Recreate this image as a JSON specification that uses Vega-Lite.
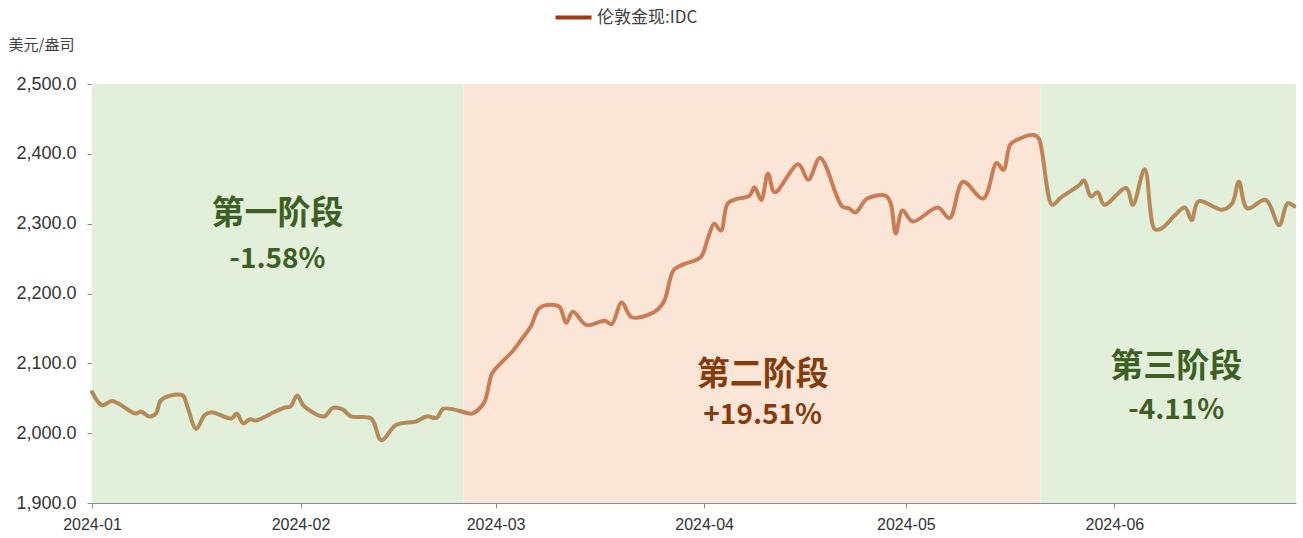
{
  "$schema": "https://vega.github.io/schema/vega-lite/v6.json",
  "width": 1204,
  "height": 419,
  "autosize": {"type": "none"},
  "padding": {"left": 92, "top": 84, "right": 7, "bottom": 35},
  "background": "#ffffff",
  "config": {
    "view": {"stroke": null},
    "axis": {"labelFont": "Liberation Sans", "titleFont": "Noto Sans CJK SC"},
    "text": {"font": "Noto Sans CJK SC"}
  },
  "datasets": {
    "phases": [
      {"start": "2024-01-01T00:00:00", "end": "2024-02-25T06:00:00", "phase": "第一阶段"},
      {"start": "2024-02-25T06:00:00", "end": "2024-05-21T00:00:00", "phase": "第二阶段"},
      {"start": "2024-05-21T00:00:00", "end": "2024-06-28T00:00:00", "phase": "第三阶段"}
    ],
    "series": [
      {"date": "2024-01-01T00:00:00", "price": 2059},
      {"date": "2024-01-02T12:00:00", "price": 2040},
      {"date": "2024-01-04T00:00:00", "price": 2046},
      {"date": "2024-01-07T12:00:00", "price": 2028},
      {"date": "2024-01-08T06:00:00", "price": 2031},
      {"date": "2024-01-09T12:00:00", "price": 2024},
      {"date": "2024-01-10T12:00:00", "price": 2028},
      {"date": "2024-01-11T06:00:00", "price": 2047},
      {"date": "2024-01-13T06:00:00", "price": 2055},
      {"date": "2024-01-14T12:00:00", "price": 2054},
      {"date": "2024-01-15T06:00:00", "price": 2036},
      {"date": "2024-01-16T12:00:00", "price": 2006},
      {"date": "2024-01-17T18:00:00", "price": 2026},
      {"date": "2024-01-18T18:00:00", "price": 2030},
      {"date": "2024-01-21T18:00:00", "price": 2021},
      {"date": "2024-01-22T12:00:00", "price": 2028},
      {"date": "2024-01-23T12:00:00", "price": 2014},
      {"date": "2024-01-24T12:00:00", "price": 2020},
      {"date": "2024-01-25T06:00:00", "price": 2018},
      {"date": "2024-01-28T06:00:00", "price": 2031},
      {"date": "2024-01-29T18:00:00", "price": 2037},
      {"date": "2024-01-30T12:00:00", "price": 2038},
      {"date": "2024-01-31T12:00:00", "price": 2054},
      {"date": "2024-02-01T12:00:00", "price": 2039},
      {"date": "2024-02-04T12:00:00", "price": 2024},
      {"date": "2024-02-05T18:00:00", "price": 2036},
      {"date": "2024-02-07T06:00:00", "price": 2034},
      {"date": "2024-02-08T12:00:00", "price": 2024},
      {"date": "2024-02-11T12:00:00", "price": 2021},
      {"date": "2024-02-13T00:00:00", "price": 1990},
      {"date": "2024-02-15T06:00:00", "price": 2012},
      {"date": "2024-02-18T06:00:00", "price": 2017},
      {"date": "2024-02-19T18:00:00", "price": 2024},
      {"date": "2024-02-21T06:00:00", "price": 2022},
      {"date": "2024-02-22T06:00:00", "price": 2035},
      {"date": "2024-02-25T18:00:00", "price": 2029},
      {"date": "2024-02-26T12:00:00", "price": 2028},
      {"date": "2024-02-28T06:00:00", "price": 2043},
      {"date": "2024-02-29T12:00:00", "price": 2086},
      {"date": "2024-03-01T18:00:00", "price": 2100},
      {"date": "2024-03-03T12:00:00", "price": 2117},
      {"date": "2024-03-04T18:00:00", "price": 2133},
      {"date": "2024-03-06T06:00:00", "price": 2153},
      {"date": "2024-03-07T12:00:00", "price": 2179},
      {"date": "2024-03-09T06:00:00", "price": 2184},
      {"date": "2024-03-10T12:00:00", "price": 2181},
      {"date": "2024-03-11T12:00:00", "price": 2158},
      {"date": "2024-03-12T12:00:00", "price": 2174},
      {"date": "2024-03-14T12:00:00", "price": 2155},
      {"date": "2024-03-17T06:00:00", "price": 2161},
      {"date": "2024-03-18T06:00:00", "price": 2156},
      {"date": "2024-03-19T18:00:00", "price": 2187},
      {"date": "2024-03-21T06:00:00", "price": 2166},
      {"date": "2024-03-24T12:00:00", "price": 2173},
      {"date": "2024-03-26T00:00:00", "price": 2188},
      {"date": "2024-03-27T12:00:00", "price": 2234},
      {"date": "2024-03-29T00:00:00", "price": 2242},
      {"date": "2024-03-31T12:00:00", "price": 2252},
      {"date": "2024-04-01T12:00:00", "price": 2277},
      {"date": "2024-04-02T12:00:00", "price": 2300},
      {"date": "2024-04-03T12:00:00", "price": 2290},
      {"date": "2024-04-04T12:00:00", "price": 2329},
      {"date": "2024-04-05T18:00:00", "price": 2335},
      {"date": "2024-04-07T18:00:00", "price": 2340},
      {"date": "2024-04-08T12:00:00", "price": 2352},
      {"date": "2024-04-09T12:00:00", "price": 2334},
      {"date": "2024-04-10T12:00:00", "price": 2372},
      {"date": "2024-04-11T12:00:00", "price": 2345},
      {"date": "2024-04-15T00:00:00", "price": 2385},
      {"date": "2024-04-16T12:00:00", "price": 2363},
      {"date": "2024-04-18T06:00:00", "price": 2394},
      {"date": "2024-04-21T12:00:00", "price": 2325},
      {"date": "2024-04-22T12:00:00", "price": 2322},
      {"date": "2024-04-23T12:00:00", "price": 2316},
      {"date": "2024-04-25T06:00:00", "price": 2336},
      {"date": "2024-04-28T00:00:00", "price": 2340},
      {"date": "2024-04-28T18:00:00", "price": 2329},
      {"date": "2024-04-29T12:00:00", "price": 2286},
      {"date": "2024-04-30T12:00:00", "price": 2319},
      {"date": "2024-05-02T00:00:00", "price": 2303},
      {"date": "2024-05-05T18:00:00", "price": 2323},
      {"date": "2024-05-07T12:00:00", "price": 2308},
      {"date": "2024-05-09T12:00:00", "price": 2360},
      {"date": "2024-05-12T12:00:00", "price": 2336},
      {"date": "2024-05-14T12:00:00", "price": 2387},
      {"date": "2024-05-15T12:00:00", "price": 2377},
      {"date": "2024-05-16T12:00:00", "price": 2413},
      {"date": "2024-05-17T12:00:00", "price": 2420},
      {"date": "2024-05-20T00:00:00", "price": 2427},
      {"date": "2024-05-20T18:00:00", "price": 2422},
      {"date": "2024-05-22T18:00:00", "price": 2327},
      {"date": "2024-05-24T00:00:00", "price": 2337},
      {"date": "2024-05-26T18:00:00", "price": 2355},
      {"date": "2024-05-27T12:00:00", "price": 2362},
      {"date": "2024-05-28T12:00:00", "price": 2339},
      {"date": "2024-05-29T12:00:00", "price": 2345},
      {"date": "2024-05-30T12:00:00", "price": 2327},
      {"date": "2024-06-02T18:00:00", "price": 2351},
      {"date": "2024-06-03T18:00:00", "price": 2327},
      {"date": "2024-06-05T12:00:00", "price": 2378},
      {"date": "2024-06-07T00:00:00", "price": 2292},
      {"date": "2024-06-08T00:00:00", "price": 2293},
      {"date": "2024-06-10T00:00:00", "price": 2312},
      {"date": "2024-06-11T12:00:00", "price": 2323},
      {"date": "2024-06-12T12:00:00", "price": 2305},
      {"date": "2024-06-13T12:00:00", "price": 2332},
      {"date": "2024-06-17T00:00:00", "price": 2320},
      {"date": "2024-06-18T12:00:00", "price": 2329},
      {"date": "2024-06-19T12:00:00", "price": 2360},
      {"date": "2024-06-20T18:00:00", "price": 2322},
      {"date": "2024-06-23T12:00:00", "price": 2334},
      {"date": "2024-06-25T12:00:00", "price": 2298},
      {"date": "2024-06-26T18:00:00", "price": 2329},
      {"date": "2024-06-27T18:00:00", "price": 2325}
    ],
    "notes": [
      {"date": "2024-01-28T14:00:00", "price": 2314, "label": "第一阶段", "kind": "name", "phase": "第一阶段"},
      {"date": "2024-01-28T14:00:00", "price": 2248, "label": "-1.58%", "kind": "pct", "phase": "第一阶段"},
      {"date": "2024-04-09T17:00:00", "price": 2083, "label": "第二阶段", "kind": "name", "phase": "第二阶段"},
      {"date": "2024-04-09T17:00:00", "price": 2025, "label": "+19.51%", "kind": "pct", "phase": "第二阶段"},
      {"date": "2024-06-10T05:00:00", "price": 2095, "label": "第三阶段", "kind": "name", "phase": "第三阶段"},
      {"date": "2024-06-10T05:00:00", "price": 2032, "label": "-4.11%", "kind": "pct", "phase": "第三阶段"}
    ]
  },
  "layer": [
    {
      "data": {"name": "phases"},
      "mark": {"type": "rect"},
      "encoding": {
        "x": {
          "field": "start", "type": "temporal",
          "scale": {"domain": [{"year": 2024, "month": 1, "date": 1}, {"year": 2024, "month": 6, "date": 28}]},
          "axis": {
            "title": null,
            "format": "%Y-%m",
            "tickCount": {"interval": "month", "step": 1},
            "grid": false,
            "domainColor": "#8c8c8c",
            "tickColor": "#8c8c8c",
            "tickSize": 5,
            "labelFontSize": 16,
            "labelColor": "#333333",
            "labelPadding": 8,
            "labelFlush": false
          }
        },
        "x2": {"field": "end"},
        "fill": {
          "field": "phase", "type": "nominal",
          "scale": {"domain": ["第一阶段", "第二阶段", "第三阶段"], "range": ["#e2efda", "#fbe5d6", "#e2efda"]},
          "legend": null
        }
      }
    },
    {
      "data": {"name": "series"},
      "mark": {"type": "line", "strokeWidth": 4, "strokeOpacity": 0},
      "encoding": {
        "x": {"field": "date", "type": "temporal"},
        "y": {"field": "price", "type": "quantitative"},
        "color": {
          "datum": "伦敦金现:IDC",
          "scale": {"range": ["#9e3b12"]},
          "legend": {
            "title": null,
            "orient": "none",
            "legendX": 461,
            "legendY": -87,
            "symbolType": "stroke",
            "symbolSize": 1300,
            "symbolStrokeWidth": 4,
            "symbolOpacity": 1,
            "symbolStrokeColor": "#9e3b12",
            "labelFont": "Noto Sans CJK SC",
            "labelFontSize": 17,
            "labelColor": "#404040",
            "labelOffset": 3
          }
        }
      }
    },
    {
      "data": {"name": "series"},
      "mark": {"type": "line", "interpolate": "catmull-rom", "strokeWidth": 4, "strokeCap": "round", "strokeJoin": "round"},
      "encoding": {
        "x": {"field": "date", "type": "temporal"},
        "y": {
          "field": "price", "type": "quantitative",
          "scale": {"domain": [1900, 2500], "nice": false, "zero": false},
          "axis": {
            "values": [1900, 2000, 2100, 2200, 2300, 2400, 2500],
            "format": ",.1f",
            "grid": false,
            "domainColor": "#8c8c8c",
            "tickColor": "#8c8c8c",
            "tickSize": 5,
            "labelFontSize": 18,
            "labelColor": "#333333",
            "labelPadding": 11,
            "title": "美元/盎司",
            "titleAngle": 0,
            "titleX": -84,
            "titleY": -40,
            "titleAlign": "left",
            "titleBaseline": "middle",
            "titleFontSize": 15,
            "titleFontWeight": "normal",
            "titleColor": "#404040"
          }
        },
        "stroke": {
          "value": {
            "gradient": "linear",
            "x1": 0, "y1": 0, "x2": 1, "y2": 0,
            "stops": [
              {"offset": 0, "color": "#b58958"},
              {"offset": 0.305, "color": "#b58958"},
              {"offset": 0.315, "color": "#c97d55"},
              {"offset": 0.785, "color": "#c97d55"},
              {"offset": 0.8, "color": "#b58958"},
              {"offset": 1, "color": "#b58958"}
            ]
          }
        }
      }
    },
    {
      "data": {"name": "notes"},
      "mark": {"type": "text", "fontWeight": "bold", "baseline": "middle", "align": "center", "font": "Noto Sans CJK SC"},
      "encoding": {
        "x": {"field": "date", "type": "temporal"},
        "y": {"field": "price", "type": "quantitative"},
        "text": {"field": "label"},
        "color": {"condition": {"test": "datum.phase === '第二阶段'", "value": "#843c0c"}, "value": "#3e5f24"},
        "size": {"condition": {"test": "datum.kind === 'pct'", "value": 28}, "value": 33}
      }
    }
  ]
}
